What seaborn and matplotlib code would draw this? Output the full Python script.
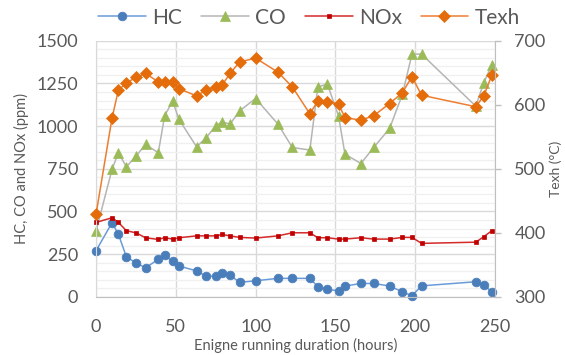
import numpy as np
import pandas as pd
import matplotlib
matplotlib.use('Agg')
import matplotlib.pyplot as plt
from matplotlib.ticker import MultipleLocator
import seaborn as sns

sns.set_style('white')
plt.rcParams['font.family'] = ['Lato', 'DejaVu Sans']

# engine running duration (hours)
hours = [0, 10, 14, 19, 25, 31, 39, 43, 48, 52, 63, 69, 75, 79, 84, 90, 100,
         114, 123, 134, 139, 145, 152, 156, 166, 174, 184, 192, 198, 204,
         238, 243, 248]
# emissions (ppm)
hc = [270, 434, 367, 234, 199, 170, 219, 242, 207, 180, 152, 121, 121, 137,
      127, 84, 94, 108, 108, 108, 59, 43, 35, 63, 78, 78, 63, 29, 6, 64,
      88, 69, 29]
co = [385, 746, 844, 762, 824, 893, 844, 1061, 1147, 1039, 879, 932, 1002,
      1025, 1012, 1090, 1162, 1012, 875, 860, 1230, 1246, 1059, 836, 781,
      875, 987, 1186, 1422, 1422, 1117, 1254, 1358]
nox = [436, 463, 436, 387, 375, 346, 336, 346, 338, 346, 357, 357, 357, 365,
       357, 348, 344, 357, 375, 375, 346, 346, 338, 338, 346, 338, 338, 348,
       348, 313, 320, 352, 387]
# exhaust temperature (°C)
texh = [429, 579, 623, 634, 643, 649, 636, 636, 636, 625, 614, 623, 628, 631,
        649, 667, 673, 651, 628, 586, 606, 605, 601, 580, 576, 583, 602, 619,
        644, 615, 597, 614, 646]

df = pd.DataFrame({'hours': hours, 'HC': hc, 'CO': co, 'NOx': nox, 'Texh': texh})

txt = '#595959'
fig = plt.figure(figsize=(5.65, 3.55), dpi=100)
ax = fig.add_axes([0.170, 0.164, 0.706, 0.721])
ax2 = ax.twinx()

common = dict(linewidth=1.1, clip_on=False, markeredgewidth=0.5)
sns.lineplot(data=df, x='hours', y='HC', ax=ax, color='#6A9BD8', marker='o',
             markersize=6.3, markerfacecolor='#4A7EBB', markeredgecolor='#4A7EBB',
             label='HC', **common)
sns.lineplot(data=df, x='hours', y='CO', ax=ax, color='#B5B5B5', marker='^',
             markersize=7, markerfacecolor='#9BBB59', markeredgecolor='#9BBB59',
             label='CO', **common)
sns.lineplot(data=df, x='hours', y='NOx', ax=ax, color='#D42A2A', marker='s',
             markersize=3.5, markerfacecolor='#C00000', markeredgecolor='#C00000',
             label='NOx', **common)
sns.lineplot(data=df, x='hours', y='Texh', ax=ax2, color='#ED7D31', marker='D',
             markersize=5.8, markerfacecolor='#E46C0A', markeredgecolor='#E46C0A',
             label='Texh', **common)

ax.set_xlim(0, 250)
ax.set_ylim(0, 1500)
ax2.set_ylim(300, 700)
ax.xaxis.set_major_locator(MultipleLocator(50))
ax.yaxis.set_major_locator(MultipleLocator(250))
ax.yaxis.set_minor_locator(MultipleLocator(50))
ax2.yaxis.set_major_locator(MultipleLocator(100))

ax.grid(True, which='major', color='#D9D9D9', linewidth=1)
ax.grid(True, which='minor', axis='y', color='#F0F0F0', linewidth=1)
ax.set_axisbelow(True)

for a in (ax, ax2):
    for s in a.spines.values():
        s.set_visible(False)
ax.spines['left'].set_visible(True)
ax.spines['left'].set_color('#D9D9D9')
ax.spines['bottom'].set_visible(True)
ax.spines['bottom'].set_color('#BFBFBF')
ax2.spines['right'].set_visible(True)
ax2.spines['right'].set_color('#BFBFBF')

ax.tick_params(axis='both', which='both', length=0, labelsize=13, labelcolor=txt)
ax.tick_params(axis='y', pad=13)
ax.tick_params(axis='x', pad=16)
ax2.tick_params(axis='y', length=4, color='#BFBFBF', width=1, direction='out',
                labelsize=13, labelcolor=txt, pad=10)

ax.set_xlabel('Enigne running duration (hours)', fontsize=10.5, color=txt, labelpad=2)
ax.set_ylabel('HC, CO and NOx (ppm)', fontsize=10.5, color=txt, labelpad=5)
ax2.set_ylabel('Texh (°C)', fontsize=10, color=txt, labelpad=3)

h1, l1 = ax.get_legend_handles_labels()
h2, l2 = ax2.get_legend_handles_labels()
for a in (ax, ax2):
    if a.get_legend() is not None:
        a.get_legend().remove()
fig.legend(h1 + h2, l1 + l2, loc='center', bbox_to_anchor=(0.547, 0.95),
           ncol=4, frameon=False, fontsize=15, handlelength=2.3,
           columnspacing=0.9, handletextpad=0.3, labelcolor=txt)

fig.savefig('out.png', dpi=100)
